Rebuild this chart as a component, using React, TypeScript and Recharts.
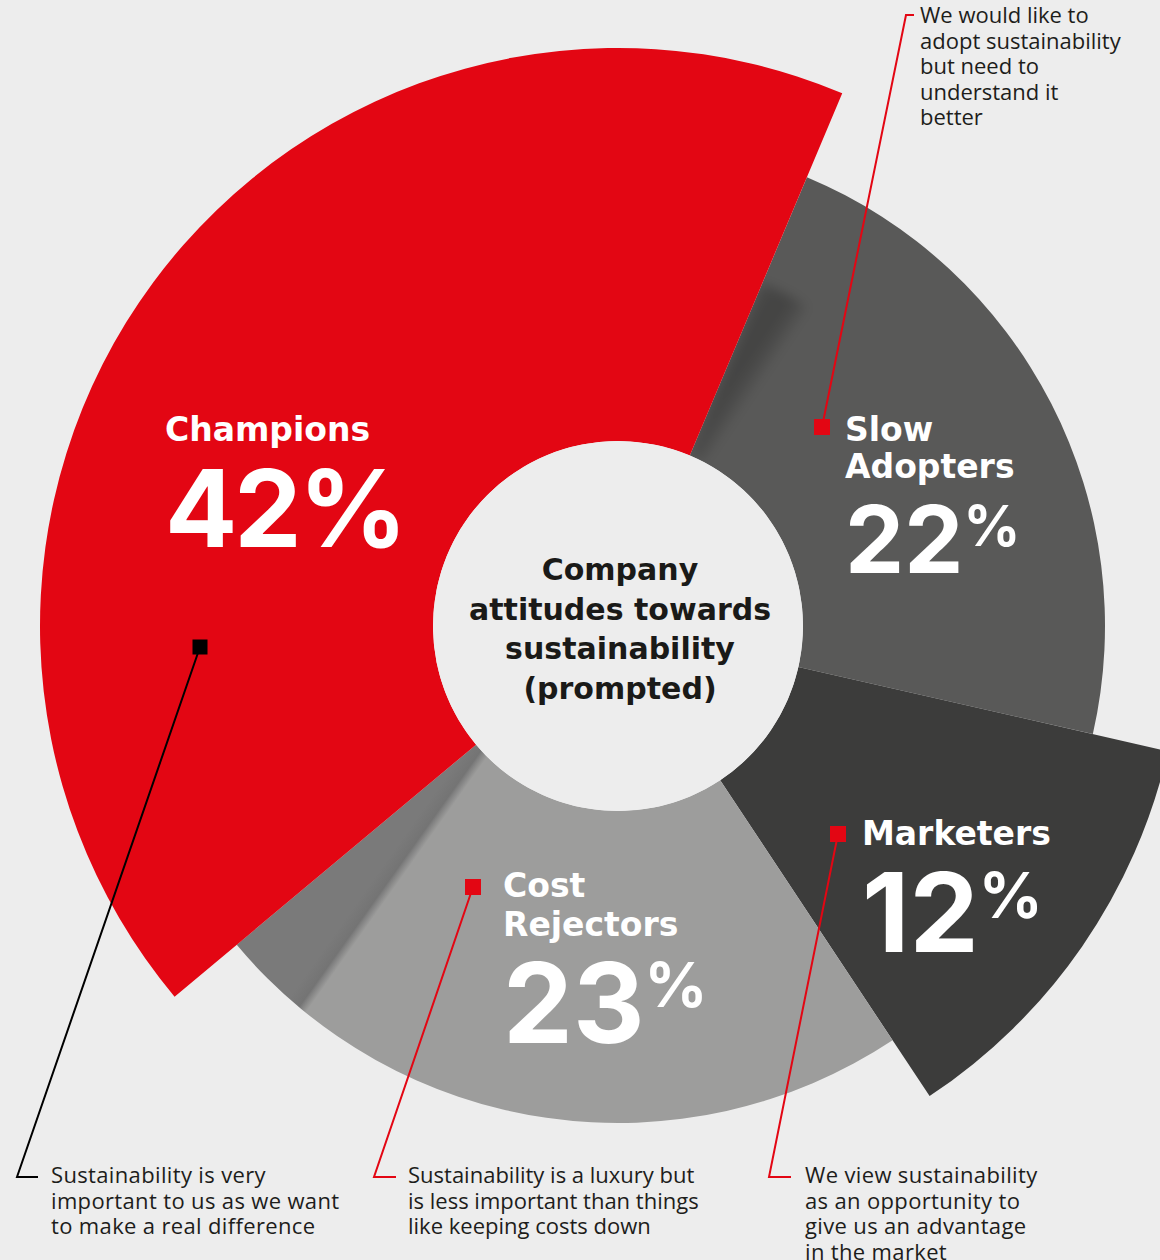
import React from "react";
import { PieChart, Pie, Cell } from "recharts";

const categories = ["Champions", "Slow Adopters", "Marketers", "Cost Rejectors"];
const shares = [42, 22, 12, 23];
const descriptions = [
	["Sustainability is very", "important to us as we want", "to make a real difference"],
	["We would like to", "adopt sustainability", "but need to", "understand it", "better"],
	["We view sustainability", "as an opportunity to", "give us an advantage", "in the market"],
	["Sustainability is a luxury but", "is less important than things", "like keeping costs down"],
];
const centerTitle = ["Company", "attitudes towards", "sustainability", "(prompted)"];

const data = categories.map((name, i) => ({ name, value: shares[i] }));

const BG = "#ededed";
const RED = "#e30613";
const CX = 618;
const CY = 626;
const INNER = 185;
const START = 219.9;

// each slice gets its own radius, so every layer is a full pie with one visible cell
// order matters: the soft shadow must sit under the red slice
const layers = [
	{ index: 1, outer: 487, fill: "#595958" },
	{ index: 2, outer: 564, fill: "#3c3c3b" },
	{ index: 3, outer: 497, fill: "url(#costShade)" },
	{ index: 1, outer: 372, fill: "url(#slowShade)" },
	{ index: 0, outer: 578, fill: RED },
];

const labelLayout = [
	{ x: 165, nameBase: [441], numBase: 547, numSize: 107, numSpacing: -3, pctSize: 107, pctRaise: 0, marker: [200, 647], markerSize: 15, color: "#000000", leader: "200,647 17,1177 38,1177", textX: 51, textBase: 1183, textSpacing: 0.35 },
	{ x: 845, nameBase: [441, 478], numBase: 573, numSize: 94, numSpacing: 0, pctSize: 56, pctRaise: 27, marker: [822, 427], markerSize: 16, color: RED, leader: "822,427 906,15 914,15", textX: 920, textBase: 23, textSpacing: 0 },
	{ x: 862, nameBase: [845], numBase: 952, numSize: 110, numSpacing: 0, pctSize: 63, pctRaise: 34, marker: [838, 834], markerSize: 16, color: RED, leader: "838,834 769,1177 791,1177", textX: 805, textBase: 1183, textSpacing: 0.35 },
	{ x: 503, nameBase: [897, 936], numBase: 1043, numSize: 111, numSpacing: 0, pctSize: 62, pctRaise: 36, marker: [473, 887], markerSize: 16, color: RED, leader: "473,887 374,1177 396,1177", textX: 408, textBase: 1183, textSpacing: 0 },
];

const App: React.FC = () => {
	return (
		<div style={{ position: "absolute", left: 0, top: 0, width: 1160, height: 1260, background: BG, overflow: "hidden" }}>
			<style>{`path[fill="url(#slowShade)"] { filter: url(#softBlur); }`}</style>
			<PieChart width={1160} height={1260} margin={{ top: 0, right: 0, bottom: 0, left: 0 }}>
				{layers.map((layer, li) => (
					<Pie
						key={li}
						data={data}
						dataKey="value"
						nameKey="name"
						cx={CX}
						cy={CY}
						innerRadius={INNER}
						outerRadius={layer.outer}
						startAngle={START}
						endAngle={START - 360}
						stroke="none"
						isAnimationActive={false}
					>
						{data.map((_, i) => (
							<Cell key={`cell-${i}`} fill={i === layer.index ? layer.fill : "none"} stroke="none" />
						))}
					</Pie>
				))}
			</PieChart>
			<svg width={1160} height={1260} style={{ position: "absolute", left: 0, top: 0, pointerEvents: "none" }}>
				<defs>
					<linearGradient id="costShade" gradientUnits="userSpaceOnUse" x1={288.6} y1={998.9} x2={306.5} y2={1011.6}>
						<stop offset="0" stopColor="#7a7a7a" />
						<stop offset="0.6" stopColor="#747474" />
						<stop offset="0.7" stopColor="#808080" />
						<stop offset="1" stopColor="#9d9d9c" />
					</linearGradient>
					<linearGradient id="slowShade" gradientUnits="userSpaceOnUse" x1={670.5} y1={422.1} x2={713.7} y2={451.1}>
						<stop offset="0" stopColor="#000" stopOpacity={0.2} />
						<stop offset="0.55" stopColor="#000" stopOpacity={0.24} />
						<stop offset="0.85" stopColor="#000" stopOpacity={0.12} />
						<stop offset="1" stopColor="#000" stopOpacity={0} />
					</linearGradient>
					<filter id="softBlur" x="-30%" y="-30%" width="160%" height="160%">
						<feGaussianBlur stdDeviation={6} />
					</filter>
				</defs>

				<circle cx={CX} cy={CY} r={INNER} fill={BG} />
				<text textAnchor="middle" fontFamily="DejaVu Sans" fontWeight={700} fontSize={30} fill="#1a1a18">
					{centerTitle.map((line, i) => (
						<tspan key={i} x={620} y={580 + i * 39.7}>
							{line}
						</tspan>
					))}
				</text>

				{categories.map((name, i) => {
					const s = labelLayout[i];
					const half = s.markerSize / 2;
					return (
						<g key={name}>
							<polyline points={s.leader} fill="none" stroke={s.color} strokeWidth={2} />
							<rect x={s.marker[0] - half} y={s.marker[1] - half} width={s.markerSize} height={s.markerSize} fill={s.color} />
							<text fontFamily="DejaVu Sans" fontWeight={700} fontSize={33} fill="#ffffff">
								{name.split(" ").map((word, w) => (
									<tspan key={w} x={s.x} y={s.nameBase[w]}>
										{word}
									</tspan>
								))}
							</text>
							<text
								x={s.x}
								y={s.numBase}
								fontFamily="Inter"
								fontWeight={700}
								fontSize={s.numSize}
								letterSpacing={s.numSpacing}
								fill="#ffffff"
							>
								{shares[i]}
								<tspan fontSize={s.pctSize} dy={-s.pctRaise}>
									%
								</tspan>
							</text>
							<text fontFamily="Open Sans" fontSize={22} letterSpacing={s.textSpacing} fill="#1d1d1b">
								{descriptions[i].map((line, l) => (
									<tspan key={l} x={s.textX} y={s.textBase + l * 25.5}>
										{line}
									</tspan>
								))}
							</text>
						</g>
					);
				})}
			</svg>
		</div>
	);
};

export default App;
